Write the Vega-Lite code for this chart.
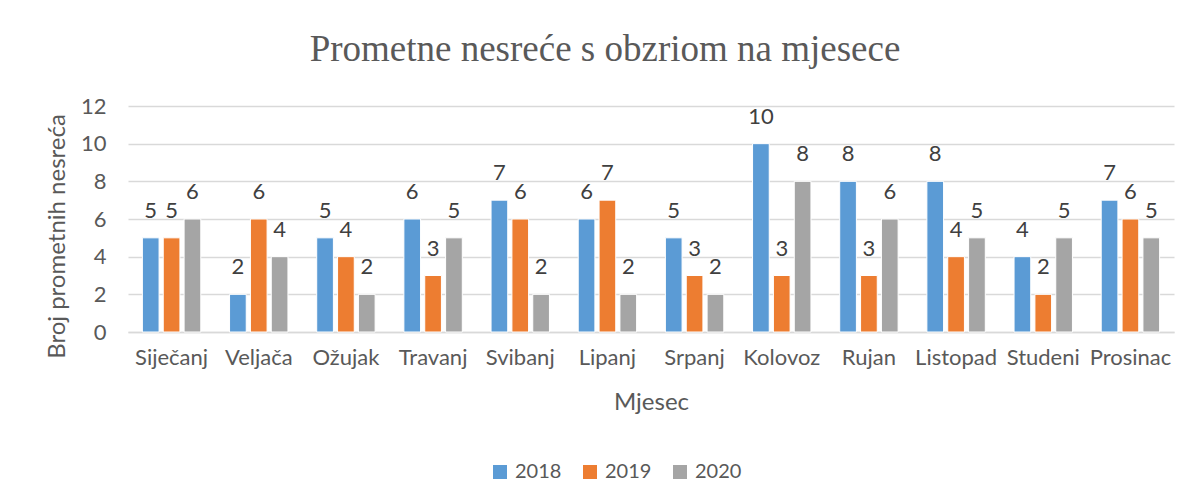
{
  "$schema": "https://vega.github.io/schema/vega-lite/v6.json",
  "autosize": {"type": "none"},
  "width": 1046,
  "height": 226,
  "padding": {"left": 128, "top": 106, "right": 18, "bottom": 172},
  "background": "white",
  "config": {
    "view": {"stroke": null},
    "font": "Lato",
    "text": {"font": "Lato"}
  },
  "title": {
    "text": "Prometne nesreće s obzriom na mjesece",
    "font": "Liberation Serif",
    "fontSize": 37,
    "fontWeight": "normal",
    "color": "#595959",
    "anchor": "middle",
    "dx": -46,
    "offset": 26
  },
  "data": {
    "values": [
      {"mjesec": "Siječanj", "godina": "2018", "broj": 5},
      {"mjesec": "Siječanj", "godina": "2019", "broj": 5},
      {"mjesec": "Siječanj", "godina": "2020", "broj": 6},
      {"mjesec": "Veljača", "godina": "2018", "broj": 2},
      {"mjesec": "Veljača", "godina": "2019", "broj": 6},
      {"mjesec": "Veljača", "godina": "2020", "broj": 4},
      {"mjesec": "Ožujak", "godina": "2018", "broj": 5},
      {"mjesec": "Ožujak", "godina": "2019", "broj": 4},
      {"mjesec": "Ožujak", "godina": "2020", "broj": 2},
      {"mjesec": "Travanj", "godina": "2018", "broj": 6},
      {"mjesec": "Travanj", "godina": "2019", "broj": 3},
      {"mjesec": "Travanj", "godina": "2020", "broj": 5},
      {"mjesec": "Svibanj", "godina": "2018", "broj": 7},
      {"mjesec": "Svibanj", "godina": "2019", "broj": 6},
      {"mjesec": "Svibanj", "godina": "2020", "broj": 2},
      {"mjesec": "Lipanj", "godina": "2018", "broj": 6},
      {"mjesec": "Lipanj", "godina": "2019", "broj": 7},
      {"mjesec": "Lipanj", "godina": "2020", "broj": 2},
      {"mjesec": "Srpanj", "godina": "2018", "broj": 5},
      {"mjesec": "Srpanj", "godina": "2019", "broj": 3},
      {"mjesec": "Srpanj", "godina": "2020", "broj": 2},
      {"mjesec": "Kolovoz", "godina": "2018", "broj": 10},
      {"mjesec": "Kolovoz", "godina": "2019", "broj": 3},
      {"mjesec": "Kolovoz", "godina": "2020", "broj": 8},
      {"mjesec": "Rujan", "godina": "2018", "broj": 8},
      {"mjesec": "Rujan", "godina": "2019", "broj": 3},
      {"mjesec": "Rujan", "godina": "2020", "broj": 6},
      {"mjesec": "Listopad", "godina": "2018", "broj": 8},
      {"mjesec": "Listopad", "godina": "2019", "broj": 4},
      {"mjesec": "Listopad", "godina": "2020", "broj": 5},
      {"mjesec": "Studeni", "godina": "2018", "broj": 4},
      {"mjesec": "Studeni", "godina": "2019", "broj": 2},
      {"mjesec": "Studeni", "godina": "2020", "broj": 5},
      {"mjesec": "Prosinac", "godina": "2018", "broj": 7},
      {"mjesec": "Prosinac", "godina": "2019", "broj": 6},
      {"mjesec": "Prosinac", "godina": "2020", "broj": 5}
    ]
  },
  "encoding": {
    "x": {
      "field": "mjesec",
      "type": "nominal",
      "sort": null,
      "scale": {"paddingInner": 0.33, "paddingOuter": 0.165},
      "axis": {
        "title": "Mjesec",
        "titleFont": "Lato",
        "titleFontSize": 24,
        "titleFontWeight": "normal",
        "titleColor": "#595959",
        "titlePadding": 22,
        "labelFont": "Lato",
        "labelFontSize": 22,
        "labelColor": "#595959",
        "labelAngle": 0,
        "labelPadding": 15,
        "ticks": false,
        "domainColor": "#D9D9D9",
        "domainWidth": 1.5
      }
    },
    "xOffset": {
      "field": "godina",
      "type": "nominal",
      "scale": {"paddingInner": 0.2, "paddingOuter": 0}
    },
    "y": {
      "field": "broj",
      "type": "quantitative",
      "scale": {"domain": [0, 12]},
      "axis": {
        "title": "Broj prometnih nesreća",
        "titleFont": "Lato",
        "titleFontSize": 24,
        "titleFontWeight": "normal",
        "titleColor": "#595959",
        "titlePadding": 11,
        "titleY": 130,
        "values": [0, 2, 4, 6, 8, 10, 12],
        "labelFont": "Lato",
        "labelFontSize": 22,
        "labelColor": "#595959",
        "labelPadding": 22,
        "ticks": false,
        "domain": false,
        "gridColor": "#D9D9D9",
        "gridWidth": 1.5
      }
    }
  },
  "layer": [
    {
      "mark": {"type": "bar", "stroke": "white", "strokeWidth": 1},
      "encoding": {
        "color": {
          "field": "godina",
          "type": "nominal",
          "scale": {"domain": ["2018", "2019", "2020"], "range": ["#5B9BD5", "#ED7D31", "#A5A5A5"]},
          "legend": {
            "title": null,
            "orient": "none",
            "legendX": 362,
            "legendY": 356,
            "direction": "horizontal",
            "symbolType": "square",
            "symbolSize": 196,
            "symbolStrokeWidth": 0,
            "labelFont": "Lato",
            "labelFontSize": 20,
            "labelColor": "#595959",
            "columnPadding": 18,
            "labelOffset": 5
          }
        }
      }
    },
    {
      "mark": {"type": "text", "baseline": "bottom", "dy": -15, "fontSize": 22, "color": "#404040", "font": "Lato"},
      "encoding": {
        "text": {"field": "broj", "type": "quantitative"}
      }
    }
  ]
}
